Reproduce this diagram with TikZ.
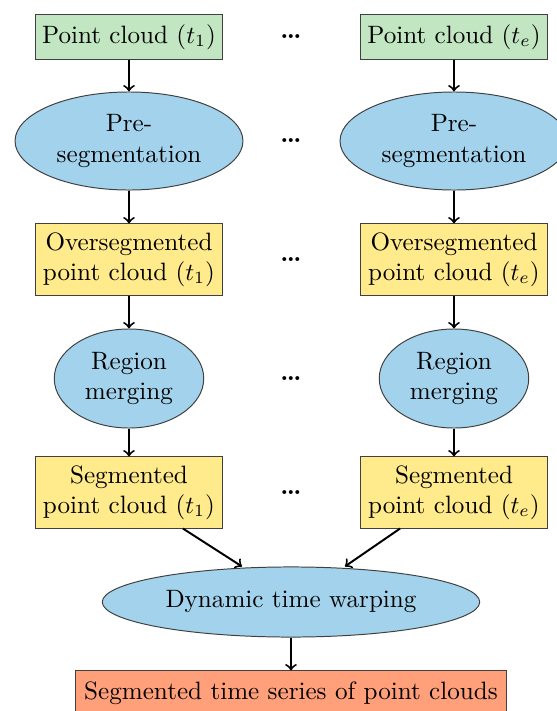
\documentclass[tikz,border=0pt]{standalone}
\usetikzlibrary{shapes.geometric}
\definecolor{boxgreen}{RGB}{194,230,194}
\definecolor{ellblue}{RGB}{163,211,236}
\definecolor{boxyellow}{RGB}{255,234,140}
\definecolor{boxsalmon}{RGB}{255,160,122}
\tikzset{
  base/.style={draw=black!75, line width=0.4pt, inner sep=0pt, align=center, font=\fontsize{10.25pt}{12.3pt}\selectfont},
  pcbox/.style={base, rectangle, fill=boxgreen, minimum width=76.3pt, minimum height=18pt},
  ovbox/.style={base, rectangle, fill=boxyellow, minimum width=76.3pt, minimum height=29pt},
  procell/.style={base, ellipse, fill=ellblue},
  finbox/.style={base, rectangle, fill=boxsalmon, minimum width=175.5pt, minimum height=18pt},
  dotsnode/.style={inner sep=0pt, font=\fontsize{10.25pt}{12.3pt}\selectfont},
  arr/.style={->, line width=0.8pt},
}
\begin{document}
\begin{tikzpicture}[x=0.408pt, y=-0.408pt]
\useasboundingbox (0,0) rectangle (557,711);
% row 1
\node[pcbox] (p1) at (129,37) {Point cloud ($t_1$)};
\node[pcbox] (pe) at (454,37) {Point cloud ($t_e$)};
\node[dotsnode] (d1) at (291,37) {\textbf{\dots}};
% row 2
\node[procell, minimum width=93pt, minimum height=40pt] (e1) at (129,141) {Pre-\\segmentation};
\node[procell, minimum width=93pt, minimum height=40pt] (ee) at (454,141) {Pre-\\segmentation};
\node[dotsnode] (d2) at (291,141) {\textbf{\dots}};
% row 3
\node[ovbox] (o1) at (129,259.5) {Oversegmented\\point cloud ($t_1$)};
\node[ovbox] (oe) at (454,259.5) {Oversegmented\\point cloud ($t_e$)};
\node[dotsnode] (d3) at (291,259.5) {\textbf{\dots}};
% row 4
\node[procell, minimum width=61pt, minimum height=40.4pt] (r1) at (129,378.5) {Region\\merging};
\node[procell, minimum width=61pt, minimum height=40.4pt] (re) at (454,378.5) {Region\\merging};
\node[dotsnode] (d4) at (291,378.5) {\textbf{\dots}};
% row 5
\node[ovbox] (s1) at (129,492.5) {Segmented\\point cloud ($t_1$)};
\node[ovbox] (se) at (454,492.5) {Segmented\\point cloud ($t_e$)};
\node[dotsnode] (d5) at (291,492.5) {\textbf{\dots}};
% bottom
\node[procell, minimum width=154pt, minimum height=28.6pt] (dtw) at (291,602) {Dynamic time warping};
\node[finbox] (fin) at (291,693) {Segmented time series of point clouds};
% arrows
\draw[arr] (p1) -- (e1);
\draw[arr] (pe) -- (ee);
\draw[arr] (e1) -- (o1);
\draw[arr] (ee) -- (oe);
\draw[arr] (o1) -- (r1);
\draw[arr] (oe) -- (re);
\draw[arr] (r1) -- (s1);
\draw[arr] (re) -- (se);
\draw[arr] ([xshift=22pt]s1.south) -- ([xshift=-20pt]dtw.north);
\draw[arr] ([xshift=-22pt]se.south) -- ([xshift=22pt]dtw.north);
\draw[arr] (dtw) -- (fin);
\end{tikzpicture}
\end{document}
